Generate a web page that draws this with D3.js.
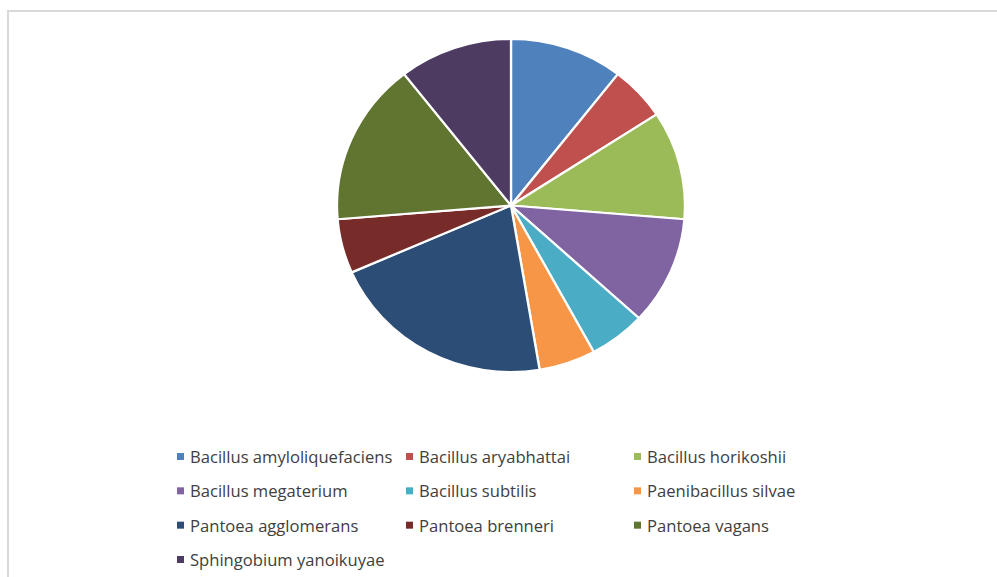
<!DOCTYPE html>
<html>
<head>
<meta charset="utf-8">
<script src="https://cdn.jsdelivr.net/npm/d3@7"></script>
<style>
  body { margin: 0; background: #fff; }
  svg { display: block; }
</style>
</head>
<body>
<div id="chart"></div>
<script>
var svgWidth = 997, svgHeight = 577;

// data
var species = ["Bacillus amyloliquefaciens", "Bacillus aryabhattai", "Bacillus horikoshii",
  "Bacillus megaterium", "Bacillus subtilis", "Paenibacillus silvae",
  "Pantoea agglomerans", "Pantoea brenneri", "Pantoea vagans", "Sphingobium yanoikuyae"];
var counts = [2, 1, 2, 2, 1, 1, 4, 1, 3, 2];
var colors = ["#4F81BD", "#C0504D", "#9BBB59", "#8064A2", "#4BACC6",
  "#F79646", "#2C4D75", "#772C2A", "#5F7530", "#4D3B62"];

var svg = d3.select("#chart").append("svg")
    .attr("width", svgWidth)
    .attr("height", svgHeight);

// chart frame (only top and left edges visible)
svg.append("path")
    .attr("d", "M8,577 L8,11 L997,11")
    .attr("fill", "none")
    .attr("stroke", "#d9d9d9")
    .attr("stroke-width", 2);

// pie
var cx = 511, cy = 205.5, ry = 166.5, rx = 174;
var pie = d3.pie().sort(null).value(function(d) { return d; });
var arc = d3.arc().innerRadius(0).outerRadius(ry);

var g = svg.append("g")
    .attr("transform", "translate(" + cx + "," + cy + ") scale(" + (rx / ry) + ",1)");

g.selectAll(".slice")
    .data(pie(counts))
    .enter().append("path")
    .attr("class", "slice")
    .attr("d", arc)
    .attr("fill", function(d, i) { return colors[i]; })
    .attr("stroke", "#fff")
    .attr("stroke-width", 2.2)
    .attr("stroke-linejoin", "round");

// legend
var colX = d3.scaleOrdinal().domain([0, 1, 2]).range([177, 406, 634]);
var rowY = d3.scaleLinear().domain([0, 3]).range([463, 566]);

var legend = svg.selectAll(".legend")
    .data(species)
    .enter().append("g")
    .attr("class", "legend")
    .attr("transform", function(d, i) {
      return "translate(" + colX(i % 3) + "," + rowY(Math.floor(i / 3)) + ")";
    });

legend.append("rect")
    .attr("x", 0)
    .attr("y", -10)
    .attr("width", 7)
    .attr("height", 7)
    .attr("fill", function(d, i) { return colors[i]; });

legend.append("text")
    .attr("x", 13)
    .attr("y", 0)
    .attr("font-family", "Open Sans, sans-serif")
    .attr("font-size", "16.6px")
    .attr("fill", "#404040")
    .text(function(d) { return d; });
</script>
</body>
</html>
